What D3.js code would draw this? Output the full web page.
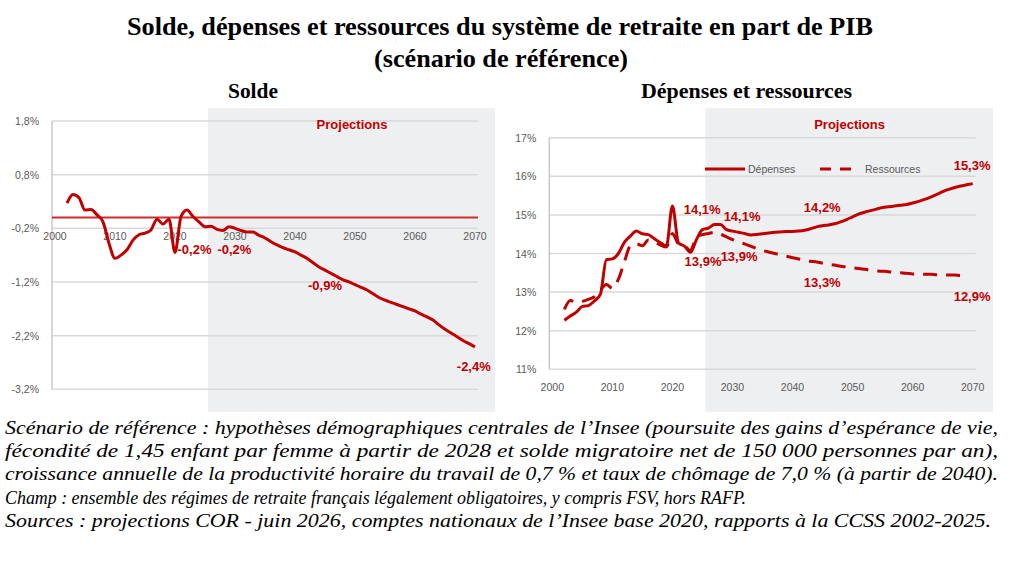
<!DOCTYPE html>
<html>
<head>
<meta charset="utf-8">
<script src="https://cdn.jsdelivr.net/npm/d3@7"></script>
<style>
  body { margin: 0; background: #fff; }
  svg { display: block; }
  .tick-label { font-family: "Liberation Sans", Arial, sans-serif; font-size: 10.5px; fill: #595959; }
  .val { font-family: "Liberation Sans", Arial, sans-serif; font-size: 13px; font-weight: bold; fill: #c00000; }
  .titre { font-family: "Liberation Serif", "Times New Roman", serif; font-weight: bold; fill: #000; }
  .note { font-family: "Liberation Serif", "Times New Roman", serif; font-style: italic; font-size: 19.5px; fill: #000; }
</style>
</head>
<body>
<svg width="1011" height="566"></svg>
<script>
// années 2002-2070
var years = d3.range(2002, 2071);

// solde en % du PIB
var solde = [0.27, 0.43, 0.37, 0.14, 0.15, 0.05, -0.08, -0.48, -0.76, -0.70,
    -0.60, -0.42, -0.32, -0.29, -0.23, -0.03, -0.12, -0.03, -0.65, 0.02,
    0.14, 0.02, -0.08, -0.17, -0.16, -0.22, -0.24, -0.17, -0.20, -0.24,
    -0.27, -0.27, -0.33, -0.38, -0.45, -0.51, -0.56, -0.60, -0.64, -0.70,
    -0.76, -0.84, -0.92, -0.98, -1.04, -1.10, -1.16, -1.20, -1.25, -1.30,
    -1.35, -1.42, -1.49, -1.54, -1.58, -1.62, -1.66, -1.70, -1.74, -1.80,
    -1.85, -1.91, -2.00, -2.08, -2.15, -2.22, -2.29, -2.35, -2.41];

// dépenses en % du PIB
var depenses = [12.27, 12.38, 12.48, 12.63, 12.65, 12.77, 12.94, 13.84, 13.86, 14.00,
    14.29, 14.45, 14.58, 14.51, 14.49, 14.38, 14.28, 14.19, 15.23, 14.28,
    14.19, 14.03, 14.36, 14.62, 14.66, 14.75, 14.75, 14.62, 14.58, 14.55,
    14.52, 14.48, 14.49, 14.51, 14.53, 14.55, 14.56, 14.57, 14.57, 14.58,
    14.60, 14.64, 14.69, 14.72, 14.74, 14.77, 14.82, 14.88, 14.95, 15.02,
    15.07, 15.11, 15.15, 15.19, 15.21, 15.23, 15.25, 15.27, 15.31, 15.35,
    15.40, 15.46, 15.53, 15.60, 15.66, 15.71, 15.75, 15.78, 15.81];

// ressources en % du PIB (jusqu'à 2069)
var ressources = [12.55, 12.78, 12.74, 12.76, 12.81, 12.88, 13.05, 13.20, 13.10, 13.33,
    13.78, 14.20, 14.25, 14.20, 14.35, 14.30, 14.22, 14.17, 14.52, 14.25,
    14.20, 14.08, 14.42, 14.49, 14.52, 14.55, 14.50, 14.43, 14.36, 14.30,
    14.25, 14.19, 14.13, 14.08, 14.04, 14.00, 13.97, 13.93, 13.89, 13.86,
    13.83, 13.80, 13.78, 13.75, 13.72, 13.70, 13.67, 13.65, 13.63, 13.61,
    13.59, 13.57, 13.55, 13.54, 13.53, 13.51, 13.50, 13.49, 13.47, 13.47,
    13.46, 13.46, 13.45, 13.45, 13.44, 13.44, 13.43, 13.43];

var xTicks = [2000, 2010, 2020, 2030, 2040, 2050, 2060, 2070];
var soldeTicks = [1.8, 0.8, -0.2, -1.2, -2.2, -3.2];
var partTicks = [11, 12, 13, 14, 15, 16, 17];

// étiquettes [année, valeur, texte]
var soldeLabels = [[2023.25, -0.59, "-0,2%"], [2029.9, -0.59, "-0,2%"],
    [2045, -1.27, "-0,9%"], [2069.8, -2.78, "-2,4%"]];
var partLabels = [[2024.95, 15.14, "14,1%"], [2031.6, 14.97, "14,1%"],
    [2044.95, 15.19, "14,2%"], [2069.9, 16.29, "15,3%"],
    [2025.1, 13.79, "13,9%"], [2031.1, 13.93, "13,9%"],
    [2044.95, 13.25, "13,3%"], [2069.9, 12.89, "12,9%"]];

var note = [
    "Scénario de référence : hypothèses démographiques centrales de l’Insee (poursuite des gains d’espérance de vie,",
    "fécondité de 1,45 enfant par femme à partir de 2028 et solde migratoire net de 150 000 personnes par an),",
    "croissance annuelle de la productivité horaire du travail de 0,7 % et taux de chômage de 7,0 % (à partir de 2040).",
    "Champ : ensemble des régimes de retraite français légalement obligatoires, y compris FSV, hors RAFP.",
    "Sources : projections COR - juin 2026, comptes nationaux de l’Insee base 2020, rapports à la CCSS 2002-2025."
];
var noteWidths = [993, 993, 993, 741, 986];

var rouge = "#c00000";

var svg = d3.select("svg");

// titres
svg.append("text").attr("class", "titre").attr("x", 127).attr("y", 35)
    .attr("font-size", 25).attr("textLength", 746).attr("lengthAdjust", "spacingAndGlyphs")
    .text("Solde, dépenses et ressources du système de retraite en part de PIB");
svg.append("text").attr("class", "titre").attr("x", 374).attr("y", 67)
    .attr("font-size", 25).attr("textLength", 254).attr("lengthAdjust", "spacingAndGlyphs")
    .text("(scénario de référence)");
svg.append("text").attr("class", "titre").attr("x", 228).attr("y", 98)
    .attr("font-size", 22).attr("textLength", 50).attr("lengthAdjust", "spacingAndGlyphs")
    .text("Solde");
svg.append("text").attr("class", "titre").attr("x", 641).attr("y", 98)
    .attr("font-size", 22).attr("textLength", 211).attr("lengthAdjust", "spacingAndGlyphs")
    .text("Dépenses et ressources");

function panel(opts) {
    var x = d3.scaleLinear().domain([1999.5, 2070.5]).range(opts.xr);
    var y = d3.scaleLinear().domain(opts.yd).range(opts.yr);
    var g = svg.append("g");

    // zone projections
    g.append("rect")
        .attr("x", x(2025.5)).attr("y", 108)
        .attr("width", opts.shadeRight - x(2025.5)).attr("height", 412 - 108)
        .attr("fill", "#eeeff1");

    g.selectAll(".grid").data(opts.ticks).enter().append("line")
        .attr("x1", x(1999.5)).attr("x2", x(2070.5))
        .attr("y1", function(d) { return y(d); }).attr("y2", function(d) { return y(d); })
        .attr("stroke", "#d9d9d9").attr("stroke-width", 1.5);

    g.append("line")
        .attr("x1", x(1999.5)).attr("x2", x(1999.5))
        .attr("y1", y(opts.yd[1])).attr("y2", y(opts.yd[0]))
        .attr("stroke", "#c8c8c8").attr("stroke-width", 1.5);

    g.selectAll(".ylab").data(opts.ticks).enter().append("text")
        .attr("class", "tick-label")
        .attr("x", x(1999.5) - 13).attr("y", function(d) { return y(d); })
        .attr("text-anchor", "end").attr("dominant-baseline", "central")
        .text(opts.fmt);

    g.selectAll(".xlab").data(xTicks).enter().append("text")
        .attr("class", "tick-label")
        .attr("x", function(d) { return x(d); }).attr("y", opts.xLabelY)
        .attr("text-anchor", "middle").attr("dominant-baseline", "central")
        .text(function(d) { return d; });

    g.append("text").attr("class", "val")
        .attr("font-size", 14)
        .attr("x", x(2049.5)).attr("y", 124)
        .attr("text-anchor", "middle").attr("dominant-baseline", "central")
        .text("Projections");

    return { x: x, y: y, g: g };
}

// ---- Solde ----
var p1 = panel({
    xr: [52, 478], yd: [-3.2, 1.8], yr: [389.3, 121], ticks: soldeTicks,
    shadeRight: 495, xLabelY: 236,
    fmt: function(d) { return d3.format(".1f")(d).replace(".", ",").replace("−", "-") + "%"; }
});

p1.g.append("line")
    .attr("x1", p1.x(1999.5)).attr("x2", p1.x(2070.5))
    .attr("y1", p1.y(0)).attr("y2", p1.y(0))
    .attr("stroke", "#d42a2a").attr("stroke-width", 2);

var line1 = d3.line()
    .x(function(d, i) { return p1.x(years[i]); })
    .y(function(d) { return p1.y(d); })
    .curve(d3.curveMonotoneX);

p1.g.append("path").datum(solde)
    .attr("d", line1).attr("fill", "none")
    .attr("stroke", rouge).attr("stroke-width", 3).attr("stroke-linejoin", "round");

p1.g.selectAll(".lab").data(soldeLabels).enter().append("text")
    .attr("class", "val")
    .attr("x", function(d) { return p1.x(d[0]); }).attr("y", function(d) { return p1.y(d[1]); })
    .attr("text-anchor", "middle").attr("dominant-baseline", "central")
    .text(function(d) { return d[2]; });

// ---- Dépenses et ressources ----
var p2 = panel({
    xr: [549.3, 975.7], yd: [11, 17], yr: [369.3, 137.7], ticks: partTicks,
    shadeRight: 993, xLabelY: 387,
    fmt: function(d) { return d + "%"; }
});

var line2 = d3.line()
    .x(function(d, i) { return p2.x(years[i]); })
    .y(function(d) { return p2.y(d); })
    .curve(d3.curveMonotoneX);

p2.g.append("path").datum(ressources)
    .attr("d", line2).attr("fill", "none")
    .attr("stroke", rouge).attr("stroke-width", 3)
    .attr("stroke-dasharray", "14,9");

p2.g.append("path").datum(depenses)
    .attr("d", line2).attr("fill", "none")
    .attr("stroke", rouge).attr("stroke-width", 3).attr("stroke-linejoin", "round");

p2.g.selectAll(".lab").data(partLabels).enter().append("text")
    .attr("class", "val")
    .attr("x", function(d) { return p2.x(d[0]); }).attr("y", function(d) { return p2.y(d[1]); })
    .attr("text-anchor", "middle").attr("dominant-baseline", "central")
    .text(function(d) { return d[2]; });

// légende
var leg = svg.append("g");
leg.append("line").attr("x1", 705).attr("x2", 745).attr("y1", 169).attr("y2", 169)
    .attr("stroke", rouge).attr("stroke-width", 3);
leg.append("text").attr("class", "tick-label").attr("x", 748).attr("y", 169)
    .attr("dominant-baseline", "central").attr("font-size", 11).text("Dépenses");
leg.append("line").attr("x1", 820).attr("x2", 860).attr("y1", 169).attr("y2", 169)
    .attr("stroke", rouge).attr("stroke-width", 3).attr("stroke-dasharray", "11,9");
leg.append("text").attr("class", "tick-label").attr("x", 865).attr("y", 169)
    .attr("dominant-baseline", "central").attr("font-size", 11).text("Ressources");

// note de bas
svg.selectAll(".note").data(note).enter().append("text")
    .attr("class", "note")
    .attr("x", 5)
    .attr("y", function(d, i) { return 434 + i * 23.2; })
    .attr("textLength", function(d, i) { return noteWidths[i]; })
    .attr("lengthAdjust", "spacingAndGlyphs")
    .text(function(d) { return d; });
</script>
</body>
</html>
